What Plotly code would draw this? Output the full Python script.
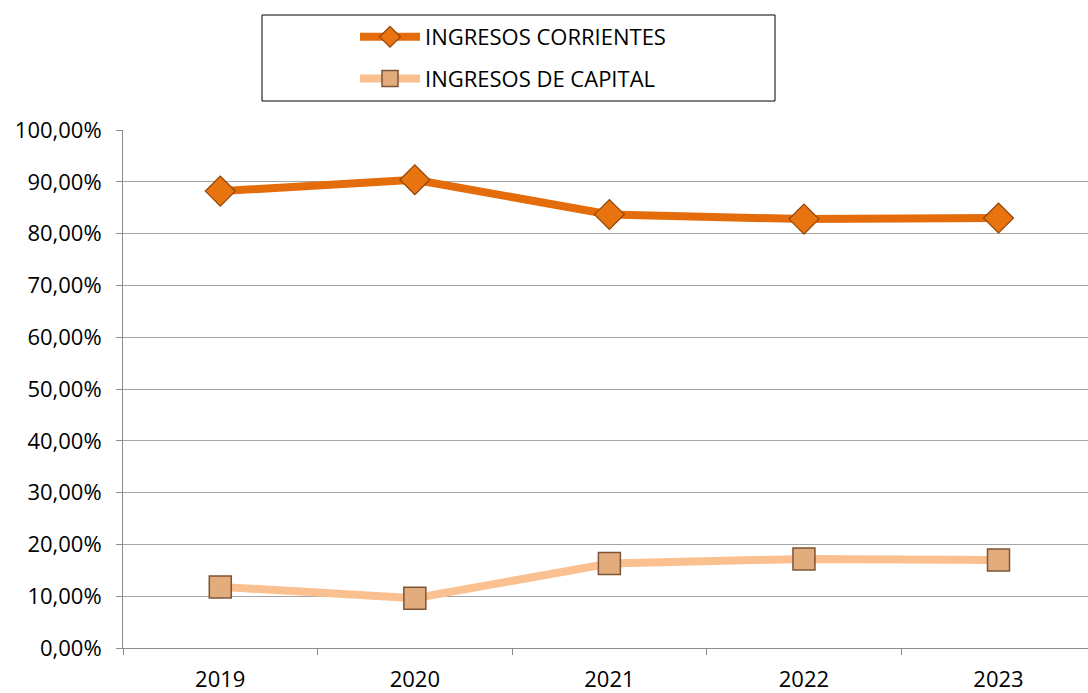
import plotly.graph_objects as go

years = ["2019", "2020", "2021", "2022", "2023"]
corrientes = [0.882, 0.904, 0.837, 0.828, 0.830]
capital = [0.118, 0.096, 0.163, 0.172, 0.170]
y_ticks = [0, 0.1, 0.2, 0.3, 0.4, 0.5, 0.6, 0.7, 0.8, 0.9, 1.0]

FONT = "Open Sans"
FS = 22
W, H = 1088, 693
L, R, T, B = 123, 0, 130, 45
pw, ph = W - L - R, H - T - B

def px(x):
    return (x - L) / pw

def py(y):
    return (H - B - y) / ph

fig = go.Figure()
fig.add_trace(go.Scatter(
    x=years, y=corrientes, name="INGRESOS CORRIENTES", mode="lines+markers",
    line=dict(color="#E46C0A", width=8),
    marker=dict(symbol="diamond", size=23, color="#E8740F",
                line=dict(color="#8E4408", width=1.2)),
    legendgroup="a",
))
fig.add_trace(go.Scatter(
    x=years, y=capital, name="INGRESOS DE CAPITAL", mode="lines+markers",
    line=dict(color="#FAC090", width=8),
    marker=dict(symbol="square", size=22, color="#E2AC7C",
                line=dict(color="#7E5436", width=1.5)),
    legendgroup="b",
))

fig.add_shape(type="rect", xref="paper", yref="paper",
              x0=px(262), x1=px(775), y0=py(101), y1=py(15),
              line=dict(color="#000000", width=1), fillcolor="rgba(0,0,0,0)")

fig.update_layout(
    width=W, height=H,
    margin=dict(l=L, r=R, t=T, b=B),
    paper_bgcolor="white", plot_bgcolor="white",
    separators=",.",
    font=dict(family=FONT, size=FS, color="#000000"),
    showlegend=True,
    legend=dict(x=px(355), y=py(16), xanchor="left", yanchor="top",
                bgcolor="rgba(0,0,0,0)", borderwidth=0,
                font=dict(family=FONT, size=FS, color="#000000"),
                tracegroupgap=10, itemwidth=60),
    xaxis=dict(type="category", range=[-0.5, 4.46], showgrid=False,
               showline=True, linecolor="#8C8C8C", linewidth=1,
               ticks="outside", ticklen=6, tickcolor="#8C8C8C",
               tickson="boundaries", ticklabelstandoff=12,
               tickfont=dict(size=FS, family=FONT)),
    yaxis=dict(range=[0, 1], tickvals=y_ticks, tickformat=".2%",
               showgrid=True, gridcolor="#A6A6A6", gridwidth=1,
               showline=True, linecolor="#8C8C8C", linewidth=1,
               ticks="outside", ticklen=6, tickcolor="#8C8C8C",
               ticklabelstandoff=10,
               zeroline=False, tickfont=dict(size=FS, family=FONT)),
)

fig.write_html("out.html", config={"displayModeBar": False},
               post_script="document.body.style.margin='0';document.body.style.overflow='hidden';")
